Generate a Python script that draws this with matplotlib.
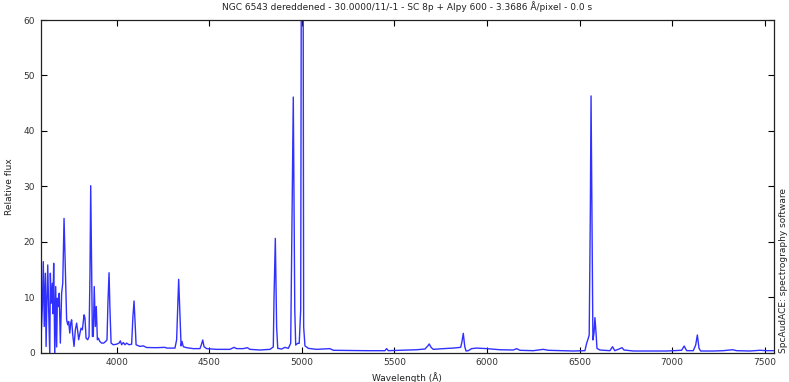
from matplotlib import pyplot as plt
import matplotlib

matplotlib.rcParams['font.family'] = 'DejaVu Sans'
matplotlib.rcParams['font.size'] = 6.5

# spectrum points (wavelength in A, relative flux)
wavelength = [
    3590, 3593, 3599, 3604, 3609, 3615, 3619, 3624, 3628, 3633,
    3639, 3642, 3647, 3653, 3656, 3660, 3666, 3671, 3676, 3680,
    3685, 3690, 3696, 3703, 3709, 3716, 3723, 3730, 3736, 3741,
    3747, 3752, 3757, 3763, 3770, 3777, 3784, 3790, 3795, 3802,
    3808, 3815, 3824, 3829, 3835, 3844, 3851, 3856, 3860, 3865,
    3869, 3874, 3879, 3885, 3890, 3896, 3901, 3909, 3919, 3930,
    3941, 3948, 3953, 3959, 3964, 3970, 3982, 4000, 4013, 4020,
    4027, 4036, 4045, 4054, 4067, 4081, 4088, 4094, 4099, 4105,
    4126, 4144, 4162, 4216, 4261, 4270, 4315, 4324, 4335, 4342,
    4348, 4353, 4360, 4378, 4414, 4450, 4457, 4465, 4472, 4486,
    4540, 4612, 4634, 4648, 4684, 4706, 4720, 4774, 4828, 4846,
    4850, 4857, 4864, 4870, 4891, 4909, 4927, 4940, 4954, 4962,
    4967, 4978, 4986, 4994, 5001, 5004, 5010, 5017, 5035, 5080,
    5152, 5170, 5350, 5449, 5458, 5467, 5530, 5620, 5665, 5680,
    5688, 5698, 5710, 5764, 5818, 5858, 5865, 5872, 5880, 5887,
    5899, 5917, 5944, 5998, 6070, 6142, 6160, 6178, 6250, 6304,
    6331, 6466, 6529, 6538, 6547, 6552, 6558, 6562, 6567, 6572,
    6578, 6583, 6589, 6594, 6610, 6664, 6678, 6690, 6709, 6729,
    6740, 6790, 6880, 6970, 7051, 7065, 7078, 7114, 7127, 7136,
    7145, 7154, 7222, 7276, 7327, 7348, 7420, 7474, 7510, 7546,
]
flux = [
    10.1, 3.5, 8.3, 16.4, 4.7, 14.3, 1.1, 10.0, 15.8, 7.7,
    -0.5, 14.3, 8.9, 12.5, 7.0, 16.1, -0.5, 11.9, 1.0, 9.8,
    8.3, 10.7, 1.7, 10.7, 12.5, 24.2, 14.9, 5.9, 5.0, 5.6,
    3.5, 5.3, 5.9, 3.2, 1.1, 4.1, 5.3, 3.8, 2.3, 3.5,
    4.4, 4.1, 6.8, 6.2, 2.6, 2.3, 2.9, 14.0, 30.1, 14.9,
    2.9, 2.9, 11.9, 4.7, 8.3, 2.3, 2.6, 2.0, 1.7, 1.7,
    2.0, 2.3, 8.9, 14.4, 7.7, 1.7, 1.4, 1.5, 1.7, 2.1,
    1.4, 1.8, 1.4, 1.7, 1.4, 1.5, 6.5, 9.3, 5.9, 1.4,
    1.1, 1.2, 0.9, 0.87, 0.93, 0.8, 0.8, 2.3, 13.2, 6.5,
    1.2, 2.0, 1.05, 0.87, 0.7, 0.7, 1.35, 2.26, 1.05, 0.7,
    0.57, 0.57, 0.93, 0.7, 0.7, 0.87, 0.57, 0.45, 0.57, 1.0,
    10.0, 20.6, 4.6, 0.75, 0.63, 0.93, 0.75, 1.66, 46.1, 7.7,
    1.35, 1.66, 1.66, 7.7, 140.0, 140.0, 4.6, 1.2, 0.75, 0.57,
    0.7, 0.4, 0.33, 0.33, 0.7, 0.33, 0.4, 0.5, 0.63, 1.17,
    1.54, 0.93, 0.57, 0.7, 0.8, 0.93, 1.96, 3.46, 1.05, 0.27,
    0.33, 0.7, 0.8, 0.7, 0.5, 0.45, 0.7, 0.4, 0.33, 0.57,
    0.4, 0.27, 0.33, 1.66, 2.56, 3.2, 25.0, 46.3, 25.0, 2.26,
    3.5, 6.3, 3.5, 0.75, 0.45, 0.33, 1.05, 0.33, 0.57, 0.87,
    0.45, 0.27, 0.27, 0.27, 0.4, 1.17, 0.33, 0.33, 1.35, 3.16,
    0.75, 0.27, 0.27, 0.33, 0.5, 0.33, 0.27, 0.4, 0.33, 0.33,
]

title = 'NGC 6543 dereddened - 30.0000/11/-1 - SC 8p + Alpy 600 - 3.3686 \u00c5/pixel - 0.0 s'


def plotSpectrum():
    fig = plt.figure(figsize=(7.89, 3.82), dpi=100)
    ax = fig.add_axes([0.0516, 0.0772, 0.9294, 0.8704])
    ax.plot(wavelength, flux, color='#3030ff', linewidth=1.0)
    ax.set_xlim(3590, 7550)
    ax.set_ylim(0, 60)
    ax.set_xticks([4000, 4500, 5000, 5500, 6000, 6500, 7000, 7500])
    ax.set_yticks([0, 10, 20, 30, 40, 50, 60])
    ax.tick_params(direction='in', top=True, right=True, length=4,
                   width=0.8, labelsize=6.5, labelcolor='#333333', pad=4)
    for sp in ax.spines.values():
        sp.set_linewidth(0.9)
        sp.set_color('#222222')
    ax.set_title(title, fontsize=6.5, color='#222222', pad=7)
    ax.set_xlabel('Wavelength (\u00c5)', fontsize=6.5, color='#222222', labelpad=4)
    ax.set_ylabel('Relative flux', fontsize=6.5, color='#222222', labelpad=7)
    fig.text(0.9985, 0.0772, 'SpcAudACE: spectrography software', rotation=90,
             fontsize=6.5, color='#222222', ha='right', va='bottom')
    fig.savefig('out.png', dpi=100)


if __name__ == '__main__':
    plotSpectrum()
